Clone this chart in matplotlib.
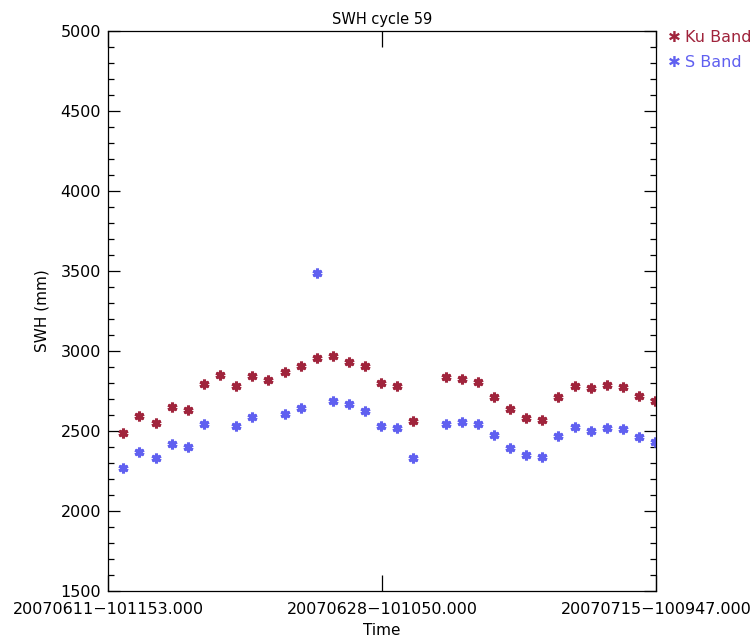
import numpy as np
import matplotlib.pyplot as plt
from matplotlib.ticker import MultipleLocator

plt.rcParams['font.family'] = ['DejaVu Sans']

nan = np.nan
# day offset of each pass from the cycle start (20070611-101153)
days = [0.95, 1.95, 2.95, 3.95, 4.95, 5.95, 6.95, 7.95, 8.95, 9.95,
        10.95, 11.95, 12.95, 13.95, 14.95, 15.95, 16.95, 17.95, 18.95, 19.95,
        20.95, 21.95, 22.95, 23.95, 24.95, 25.95, 26.95, 27.95, 28.95, 29.95,
        30.95, 31.95, 32.95, 33.95]
swh_ku = [2486, 2594, 2550, 2648, 2631, 2794, 2848, 2781, 2842, 2821,
          2867, 2908, 2954, 2969, 2929, 2908, 2800, 2781, 2565, nan,
          2840, 2827, 2808, 2713, 2640, 2579, 2567, 2713, 2781, 2767,
          2787, 2773, 2719, 2688]
swh_s = [2269, 2369, 2329, 2417, 2402, 2544, nan, 2531, 2586, nan,
         2604, 2646, 3488, 2685, 2667, 2625, 2531, 2517, 2329, nan,
         2546, 2558, 2545, 2477, 2396, 2350, 2335, 2471, 2525, 2498,
         2519, 2510, 2464, 2433]
tick_pos = [0, 17, 34]
tick_labels = ['20070611\u2212101153.000', '20070628\u2212101050.000', '20070715\u2212100947.000']

ku_col = '#a0243c'
s_col = '#6060f0'

fig = plt.figure(figsize=(7.56, 6.41), dpi=100)
ax = fig.add_axes([0.1429, 0.078, 0.7248, 0.8737])

ax.plot(days, swh_ku, ls='none', marker=(6, 2, 0), ms=7, mew=2.2, color=ku_col)
ax.plot(days, swh_s, ls='none', marker=(6, 2, 0), ms=7, mew=2.2, color=s_col)

ax.set_xlim(0, 34)
ax.set_ylim(1500, 5000)
ax.set_xticks(tick_pos)
ax.set_xticklabels(tick_labels, fontsize=11.5)
ax.yaxis.set_major_locator(MultipleLocator(500))
ax.yaxis.set_minor_locator(MultipleLocator(100))
ax.tick_params(axis='y', which='major', direction='in', length=8.5, width=0.9,
               left=True, right=True, labelsize=11.5, pad=5)
ax.tick_params(axis='y', which='minor', direction='in', length=4.3, width=0.9,
               left=True, right=True)
ax.tick_params(axis='x', which='major', direction='in', length=11.5, width=0.9,
               top=True, bottom=True, pad=8)
for sp in ax.spines.values():
    sp.set_linewidth(0.9)

ax.set_title('SWH cycle 59', fontsize=10.5, pad=5)
ax.set_ylabel('SWH (mm)', fontsize=11, labelpad=8)
ax.set_xlabel('Time', fontsize=11, labelpad=4)

fig.text(0.884, 0.942, '\u2731', color=ku_col, fontsize=11, va='center', ha='left')
fig.text(0.906, 0.942, 'Ku Band', color=ku_col, fontsize=11.5, va='center', ha='left')
fig.text(0.884, 0.902, '\u2731', color=s_col, fontsize=11, va='center', ha='left')
fig.text(0.906, 0.902, 'S Band', color=s_col, fontsize=11.5, va='center', ha='left')

fig.savefig('out.png', dpi=100)
